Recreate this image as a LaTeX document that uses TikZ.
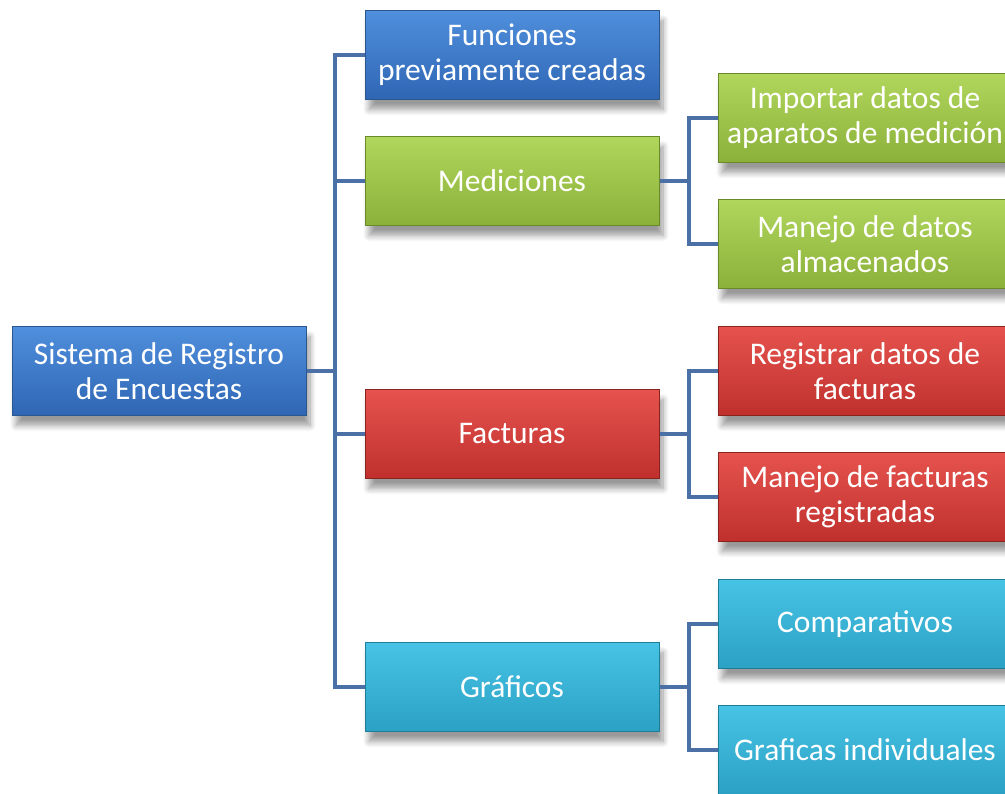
\documentclass[tikz,border=0pt]{standalone}
\usepackage{fontspec}
\setmainfont{Carlito}
\usetikzlibrary{positioning,shadows.blur}
\definecolor{linkblue}{HTML}{4A70A6}
\definecolor{bluetop}{HTML}{4F8FDC}
\definecolor{bluebot}{HTML}{2F66B4}
\definecolor{blueedge}{HTML}{2A5790}
\definecolor{greentop}{HTML}{B1D65C}
\definecolor{greenbot}{HTML}{8CB13B}
\definecolor{greenedge}{HTML}{6A8A2A}
\definecolor{redtop}{HTML}{E6534F}
\definecolor{redbot}{HTML}{BF302C}
\definecolor{rededge}{HTML}{8A2220}
\definecolor{cyantop}{HTML}{47C3E5}
\definecolor{cyanbot}{HTML}{2BA1C4}
\definecolor{cyanedge}{HTML}{1E7E9A}
\begin{document}
\begin{tikzpicture}[x=1pt, y=-1pt]
        \tikzstyle{box}=[minimum width=294pt, minimum height=89pt, inner sep=2pt, align=center, text=white,
            font=\fontsize{31.5}{35}\selectfont, line width=1pt,
            blur shadow={shadow xshift=4pt, shadow yshift=-10pt, shadow blur steps=10, shadow blur radius=6pt, shadow opacity=40}]
        \tikzstyle{bluebox}=[box, draw=blueedge, top color=bluetop, bottom color=bluebot]
        \tikzstyle{greenbox}=[box, draw=greenedge, top color=greentop, bottom color=greenbot]
        \tikzstyle{redbox}=[box, draw=rededge, top color=redtop, bottom color=redbot]
        \tikzstyle{cyanbox}=[box, draw=cyanedge, top color=cyantop, bottom color=cyanbot]
        \tikzstyle{link}=[draw=linkblue, line width=4pt]

        % Frame of the picture
        \useasboundingbox (0,0) rectangle (1005,794);
        \clip (0,0) rectangle (1005,794);

        % Root
        \node[bluebox] (root) at (159,371) {Sistema de Registro\\de Encuestas};

        % Second level
        \node[bluebox] (fun) at (512,55) {Funciones\\previamente creadas};
        \node[greenbox] (med) at (512,181) {Mediciones};
        \node[redbox] (fac) at (512,434) {Facturas};
        \node[cyanbox] (gra) at (512,687) {Gráficos};

        % Third level
        \node[greenbox] (imp) at (865,118) {Importar datos de\\aparatos de medición};
        \node[greenbox] (man) at (865,244) {Manejo de datos\\almacenados};
        \node[redbox] (reg) at (865,371) {Registrar datos de\\facturas};
        \node[redbox] (mfa) at (865,497) {Manejo de facturas\\registradas};
        \node[cyanbox] (com) at (865,624) {Comparativos};
        \node[cyanbox] (gin) at (865,750) {Graficas individuales};

        % Connectors
        \foreach \c in {fun,med,fac,gra}
            \draw[link] (root.east) -- ++(28,0) |- (\c.west);
        \foreach \p/\c in {med/imp,med/man,fac/reg,fac/mfa,gra/com,gra/gin}
            \draw[link] (\p.east) -- ++(29,0) |- (\c.west);
    \end{tikzpicture}
\end{document}
